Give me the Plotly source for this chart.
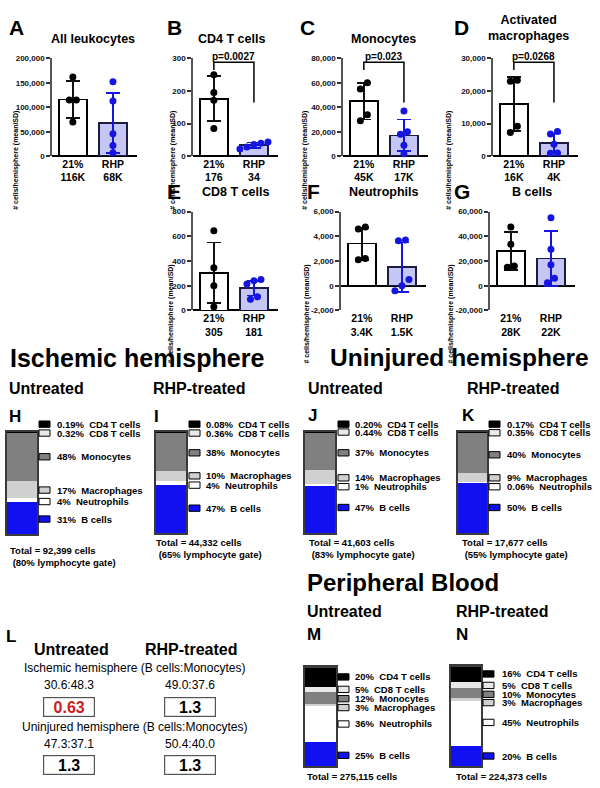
import plotly.graph_objects as go

W, H = 600, 788
FONT = "Liberation Sans, Arial, sans-serif"

# ---------------- data: panels A-G (cells per hemisphere) ----------------
groups = ["21%", "RHP"]
panel_letters = ["A", "B", "C", "D", "E", "F", "G"]
panel_titles = ["All leukocytes", "CD4 T cells", "Monocytes", "Activated<br>macrophages",
                "CD8 T cells", "Neutrophils", "B cells"]

leuk_21 = [162000, 115000, 115000, 70000]
leuk_rhp = [152000, 113000, 46000, 22000, 7000]
cd4_21 = [250, 195, 172, 85]
cd4_rhp = [44, 40, 36, 28, 22]
mono_21 = [60000, 55000, 34000, 29000]
mono_rhp = [37000, 20000, 18000, 9000, 2000]
mac_21 = [23300, 23000, 9200, 7300]
mac_rhp = [7600, 6800, 3700, 1000, 900]
cd8_21 = [645, 345, 200, 30]
cd8_rhp = [250, 240, 215, 110, 90]
neut_21 = [4750, 4600, 2200, 2100]
neut_rhp = [3700, 3650, 500, 0, -400]
bcell_21 = [47500, 33500, 16000, 15000]
bcell_rhp = [55000, 29500, 17000, 6000, 2500]

points_21 = [leuk_21, cd4_21, mono_21, mac_21, cd8_21, neut_21, bcell_21]
points_rhp = [leuk_rhp, cd4_rhp, mono_rhp, mac_rhp, cd8_rhp, neut_rhp, bcell_rhp]

# bar heights (mean) and error bars (SD)
mean_21 = [116000, 176, 45000, 16000, 305, 3400, 28000]
mean_rhp = [68000, 34, 17000, 4000, 181, 1500, 22000]
sd_21 = [37500, 69, 15000, 8300, 245, 1300, 15500]
sd_rhp = [62000, 8, 13000, 3000, 60, 2000, 22000]
mean_labels_21 = ["116K", "176", "45K", "16K", "305", "3.4K", "28K"]
mean_labels_rhp = ["68K", "34", "17K", "4K", "181", "1.5K", "22K"]

p_values = {1: "p=0.0027", 2: "p=0.023", 3: "p=0.0268"}

# ---------------- data: composition panels H-N (% of cells) ----------------
cell_types = ["CD4 T cells", "CD8 T cells", "Monocytes", "Macrophages", "Neutrophils", "B cells"]
pct_H = [0.19, 0.32, 48, 17, 4, 31]
pct_I = [0.08, 0.36, 38, 10, 4, 47]
pct_J = [0.20, 0.44, 37, 14, 1, 47]
pct_K = [0.17, 0.35, 40, 9, 0.06, 50]
pct_M = [20, 5, 12, 3, 36, 25]
pct_N = [16, 5, 10, 3, 45, 20]
total_cells = [92399, 44332, 41603, 17677, 275115, 224373]
lymph_gate = [80, 65, 83, 55, None, None]

# ---------------- data: panel L (B cells : Monocytes) ----------------
ratio_rows = ["Ischemic hemisphere (B cells:Monocytes)", "Uninjured hemisphere (B cells:Monocytes)"]
ratio_untreated = [(30.6, 48.3), (47.3, 37.1)]
ratio_rhp = [(49.0, 37.6), (50.4, 40.0)]

# ---------------- styling / layout ----------------
cell_colors = ["#000000", "#e8e8e8", "#808080", "#d0d0d0", "#ffffff", "#1010f0"]
RHP_FILL = "#c6c6f4"
RHP_BLUE = "#1515e0"


def px(x):
    return x / W


def py(y):
    return 1 - y / H


def swarm(center, vals, px_per_unit, diam=7.0, unit_px=40.0):
    # spread points that would overlap vertically, symmetric about the centre
    order = sorted(range(len(vals)), key=lambda k: vals[k])
    clusters = []
    for k in order:
        if clusters and abs(vals[k] - vals[clusters[-1][-1]]) * px_per_unit < diam:
            clusters[-1].append(k)
        else:
            clusters.append([k])
    xs = [center] * len(vals)
    for c in clusters:
        for j, k in enumerate(c):
            xs[k] = center + (j - (len(c) - 1) / 2) * diam / unit_px
    return xs


fig = go.Figure()
layout = dict(width=W, height=H, margin=dict(l=0, r=0, t=0, b=0), autosize=False,
              paper_bgcolor="white", plot_bgcolor="rgba(0,0,0,0)", showlegend=False,
              barmode="stack", font=dict(family=FONT, color="black"))
annotations = []
shapes = []


def note(x, y, text, size, bold=True, xanchor="center", **kw):
    annotations.append(dict(x=px(x), y=py(y), xref="paper", yref="paper", text=text,
                            showarrow=False, xanchor=xanchor, yanchor="middle",
                            font=dict(family=FONT, size=size, color=kw.pop("color", "black"),
                                      weight="bold" if bold else "normal"), **kw))


# panel boxes in pixels: x0, x1, y_top, y_bottom
bar_boxes = [(52, 137, 55, 154), (193, 278, 55, 154), (343, 428, 55, 154), (493, 578, 55, 154),
             (193, 278, 210, 310), (341, 426, 210, 310), (490, 575, 210, 310)]
y_ranges = [(0, 200000, 50000), (0, 300, 100), (0, 80000, 20000), (0, 30000, 10000),
            (0, 800, 200), (-2000, 6000, 2000), (-20000, 60000, 20000)]
letter_pos = [(7, 24), (165, 24), (298, 24), (452, 24), (165, 190), (305, 190), (452, 190)]
title_pos = [(93, 35), (231, 35), (383, 35), (528, 24), (235, 190), (383, 190), (532, 190)]
ytitle_x = [10, 167, 305, 455, 165, 307, 457]

for i in range(7):
    n = i + 1
    xa, ya = ("x", "y") if n == 1 else (f"x{n}", f"y{n}")
    x0, x1, yt, yb = bar_boxes[i]
    lo, hi, step = y_ranges[i]
    ppu = (yb - yt) / (hi - lo)

    fig.add_trace(go.Bar(x=[0], y=[mean_21[i]], width=0.7, xaxis=xa, yaxis=ya,
                         marker=dict(color="white", line=dict(color="black", width=1.5)),
                         error_y=dict(type="data", array=[sd_21[i]], color="#111",
                                      thickness=1.8, width=7)))
    fig.add_trace(go.Bar(x=[1], y=[mean_rhp[i]], width=0.7, xaxis=xa, yaxis=ya,
                         marker=dict(color=RHP_FILL, line=dict(color="#1c1c40", width=1.5)),
                         error_y=dict(type="data", array=[sd_rhp[i]], color=RHP_BLUE,
                                      thickness=1.8, width=7)))
    fig.add_trace(go.Scatter(x=swarm(0, points_21[i], ppu), y=points_21[i], mode="markers",
                             xaxis=xa, yaxis=ya, cliponaxis=False,
                             marker=dict(size=7, color="black")))
    fig.add_trace(go.Scatter(x=swarm(1, points_rhp[i], ppu), y=points_rhp[i], mode="markers",
                             xaxis=xa, yaxis=ya, cliponaxis=False,
                             marker=dict(size=7, color=RHP_BLUE)))

    tickvals = list(range(lo, hi + 1, step))
    layout["xaxis" if n == 1 else f"xaxis{n}"] = dict(
        domain=[px(x0), px(x1)], anchor=ya, range=[-0.52, 1.6], tickvals=[0, 1],
        ticktext=[f"{groups[0]}<br>{mean_labels_21[i]}", f"{groups[1]}<br>{mean_labels_rhp[i]}"],
        showline=False, showgrid=False, zeroline=False, ticks="",
        tickfont=dict(family=FONT, size=10.5, weight="bold", color="black"))
    layout["yaxis" if n == 1 else f"yaxis{n}"] = dict(
        domain=[py(yb), py(yt)], anchor=xa, range=[lo, hi], tickvals=tickvals,
        ticktext=[f"{v:,}" for v in tickvals], ticks="outside", ticklen=4, tickwidth=1.5,
        tickcolor="#333", showline=True, linewidth=1.5, linecolor="#555", showgrid=False,
        zeroline=True, zerolinecolor="black", zerolinewidth=1.5,
        tickfont=dict(family=FONT, size=8, weight="bold", color="#111"))

    if i in p_values:
        top, left, right = hi * 0.96, hi * 0.88, hi * 0.55
        shapes.append(dict(type="path", xref=xa, yref=ya, line=dict(color="black", width=1.5),
                           path=f"M 0,{left} L 0,{top} L 1,{top} L 1,{right}"))
        annotations.append(dict(x=0.5, y=top, xref=xa, yref=ya, text=p_values[i], showarrow=False,
                                yanchor="bottom", yshift=-2,
                                font=dict(family=FONT, size=10, weight="bold")))

    note(letter_pos[i][0], letter_pos[i][1], panel_letters[i], 21, xanchor="left")
    note(title_pos[i][0], title_pos[i][1], panel_titles[i], 12.5)
    annotations.append(dict(x=px(ytitle_x[i]), y=py((yt + yb) / 2 + 2), xref="paper", yref="paper",
                            text="# cells/hemisphere (mean/SD)", textangle=-90, showarrow=False,
                            font=dict(family=FONT, size=7, weight="bold")))

# ---------------- composition bars H-N ----------------
comp_letters = ["H", "I", "J", "K", "M", "N"]
comp_pcts = [pct_H, pct_I, pct_J, pct_K, pct_M, pct_N]
comp_boxes = [(7, 37, 433, 536), (156, 186, 433, 535), (305, 335, 433, 535), (458, 487, 433, 535),
              (305, 336, 671, 771), (451, 481, 670, 771)]
swatch_x = [39, 189, 338, 489, 338, 483]
text_x = [55, 204, 353, 505, 353, 500]
legend_y = [[425, 434, 458, 491.7, 503.3, 521], [425, 434, 454, 477.3, 486.7, 510],
            [425, 433, 454, 479.3, 488.3, 509.3], [425, 433.7, 456, 479.3, 488.3, 509.3],
            [680.7, 693.3, 702.7, 711.7, 728.3, 760], [677.7, 689.3, 698.3, 706.7, 726.7, 760.7]]
letter_xy = [(7, 417.5), (152, 417), (306, 416), (460, 416), (305, 638), (454, 638)]
total_xy = [(8, 559), (154, 551), (307, 551), (460, 551), (305, 781.5), (454, 781.5)]

for j, letter in enumerate(comp_letters):
    n = 8 + j
    xa, ya = f"x{n}", f"y{n}"
    x0, x1, yt, yb = comp_boxes[j]
    pcts = comp_pcts[j]
    for k in reversed(range(len(cell_types))):
        fig.add_trace(go.Bar(x=[0], y=[pcts[k]], width=1, xaxis=xa, yaxis=ya,
                             marker=dict(color=cell_colors[k], line=dict(width=0))))
    layout[f"xaxis{n}"] = dict(domain=[px(x0), px(x1)], anchor=ya, range=[-0.5, 0.5],
                               showticklabels=False, ticks="", showgrid=False, zeroline=False,
                               showline=True, mirror=True, linecolor="#3a3a3a", linewidth=1.5)
    layout[f"yaxis{n}"] = dict(domain=[py(yb), py(yt)], anchor=xa, range=[0, sum(pcts)],
                               showticklabels=False, ticks="", showgrid=False, zeroline=False,
                               showline=True, mirror=True, linecolor="#3a3a3a", linewidth=1.5)

    for k, cell in enumerate(cell_types):
        yy = legend_y[j][k]
        shapes.append(dict(type="rect", xref="paper", yref="paper",
                           x0=px(swatch_x[j]), x1=px(swatch_x[j] + 11),
                           y0=py(yy + 3.2), y1=py(yy - 3.2),
                           fillcolor=cell_colors[k], line=dict(color="black", width=1)))
        v = pcts[k]
        lab = f"{v:.2f}%" if v < 1 else f"{v:g}%"
        note(text_x[j], yy, f"{lab}\u00a0\u00a0{cell}", 9.5, xanchor="left")

    note(letter_xy[j][0], letter_xy[j][1], letter, 17, xanchor="left")
    txt = f"Total = {total_cells[j]:,} cells"
    if lymph_gate[j] is not None:
        txt += f"<br>\u00a0({lymph_gate[j]}% lymphocyte gate)"
    note(total_xy[j][0], total_xy[j][1], txt, 9.5, xanchor="left", align="left")

# section headings
note(8, 358, "Ischemic hemisphere", 25, xanchor="left")
note(328, 358, "Uninjured hemisphere", 24.5, xanchor="left")
note(305, 585, "Peripheral Blood", 24, xanchor="left")
for x, t in [(7, "Untreated"), (151, "RHP-treated"), (306, "Untreated"), (465, "RHP-treated")]:
    note(x, 389, t, 16, xanchor="left")
for x, t in [(305, "Untreated"), (454, "RHP-treated")]:
    note(x, 615, t, 16, xanchor="left")

# ---------------- panel L ----------------
note(4, 640, "L", 17, xanchor="left")
note(71, 653, "Untreated", 16)
note(191, 653, "RHP-treated", 16)
row_y = [(672, 689, 711), (731.5, 749, 769.5)]
for r, label in enumerate(ratio_rows):
    ty, vy, by = row_y[r]
    note(134, ty, label, 12, bold=False)
    for cx, pair in [(69, ratio_untreated[r]), (190, ratio_rhp[r])]:
        b, m = pair
        note(cx, vy, f"{b:.1f}:{m:.1f}", 12, bold=False)
        ratio = b / m
        note(cx, by, f"{ratio:.2g}", 16, color="#d01c1c" if ratio < 1 else "black",
             bordercolor="#555", borderwidth=1.2, borderpad=1.5, width=47, height=15)

layout["annotations"] = annotations
layout["shapes"] = shapes
fig.update_layout(**layout)
# the page body has a default 8px margin; drop it so the figure sits at the window origin
fig.write_html("out.html", config={"displayModeBar": False},
               post_script="document.body.style.margin='0';")
